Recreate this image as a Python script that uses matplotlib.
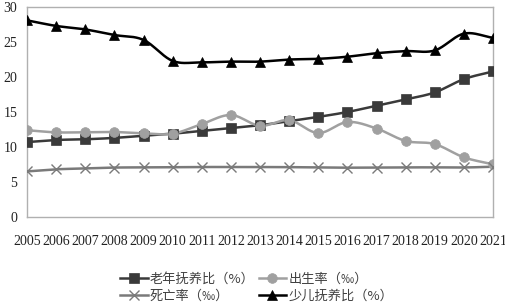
import matplotlib
matplotlib.use("Agg")
import matplotlib.pyplot as plt
from matplotlib.lines import Line2D
import numpy as np

# data
years = list(range(2005, 2022))
old_age = [10.7, 11.0, 11.1, 11.3, 11.6, 11.9, 12.3, 12.7, 13.1, 13.7, 14.3, 15.0, 15.9, 16.8, 17.8, 19.7, 20.8]
birth = [12.40, 12.09, 12.10, 12.14, 11.95, 11.90, 13.27, 14.57, 13.03, 13.83, 11.99, 13.57, 12.64, 10.86, 10.41, 8.52, 7.52]
death = [6.51, 6.81, 6.93, 7.06, 7.08, 7.11, 7.14, 7.13, 7.13, 7.12, 7.07, 7.04, 7.06, 7.08, 7.09, 7.07, 7.18]
child = [28.1, 27.3, 26.8, 26.0, 25.3, 22.3, 22.1, 22.2, 22.2, 22.5, 22.6, 22.9, 23.4, 23.7, 23.8, 26.2, 25.6]

labels = ['老年抚养比（%）', '出生率（‰）', '死亡率（‰）', '少儿抚养比（%）']


def smooth(x, y, n=20):
    # catmull-rom curve through the points, like Excel's smoothed line
    x = np.asarray(x, float)
    y = np.asarray(y, float)
    px = np.concatenate([[2 * x[0] - x[1]], x, [2 * x[-1] - x[-2]]])
    py = np.concatenate([[2 * y[0] - y[1]], y, [2 * y[-1] - y[-2]]])
    xs, ys = [], []
    t = np.linspace(0, 1, n, endpoint=False)
    for i in range(1, len(px) - 2):
        for p, out in ((px, xs), (py, ys)):
            p0, p1, p2, p3 = p[i - 1], p[i], p[i + 1], p[i + 2]
            out.extend(0.5 * (2 * p1 + (-p0 + p2) * t
                              + (2 * p0 - 5 * p1 + 4 * p2 - p3) * t ** 2
                              + (-p0 + 3 * p1 - 3 * p2 + p3) * t ** 3))
    xs.append(x[-1])
    ys.append(y[-1])
    return xs, ys


fig = plt.figure(figsize=(5.06, 3.06), dpi=100)
ax = fig.add_axes([0.0534, 0.291, 0.921, 0.686])

styles = [
    (old_age, '#3a3a3a', 's', 6.5, '#3a3a3a'),
    (birth, '#a0a0a0', 'o', 7, '#a0a0a0'),
    (death, '#7a7a7a', 'x', 6.5, '#7a7a7a'),
    (child, '#000000', '^', 6.5, '#000000'),
]

handles = []
for (vals, col, mk, ms, mcol), lab in zip(styles, labels):
    sx, sy = smooth(years, vals)
    ax.plot(sx, sy, color=col, lw=1.8, zorder=2)
    ax.plot(years, vals, ls='none', marker=mk, ms=ms, color=mcol,
            mec=mcol, mew=1.0 if mk == 'x' else 0.5, zorder=3)
    handles.append(Line2D([], [], color=col, lw=1.8, marker=mk, ms=ms,
                          mfc=mcol, mec=mcol, mew=1.0 if mk == 'x' else 0.5))

ax.set_xlim(2005, 2021)
ax.set_ylim(0, 30)
ax.set_xticks(years)
ax.set_xticklabels([str(y) for y in years], fontsize=10, family='Liberation Serif')
ax.set_yticks(range(0, 31, 5))
ax.set_yticklabels([str(v) for v in range(0, 31, 5)], fontsize=10, family='Liberation Serif')
ax.tick_params(axis='both', length=0, colors='#222222')
ax.tick_params(axis='y', pad=7)
ax.tick_params(axis='x', pad=13)
for s in ax.spines.values():
    s.set_color('#b0b0b0')
    s.set_linewidth(1.0)

order = [0, 2, 1, 3]
leg = fig.legend([handles[i] for i in order], [labels[i] for i in order],
                 ncol=2, loc='center', bbox_to_anchor=(0.507, 0.06),
                 frameon=False, handlelength=2.1, handletextpad=0.15,
                 columnspacing=0.3, labelspacing=0.35,
                 prop={'family': ['Noto Sans CJK SC', 'DejaVu Sans'], 'size': 9.5})
for t in leg.get_texts():
    t.set_color('#404040')

fig.savefig('out.png', dpi=100)
